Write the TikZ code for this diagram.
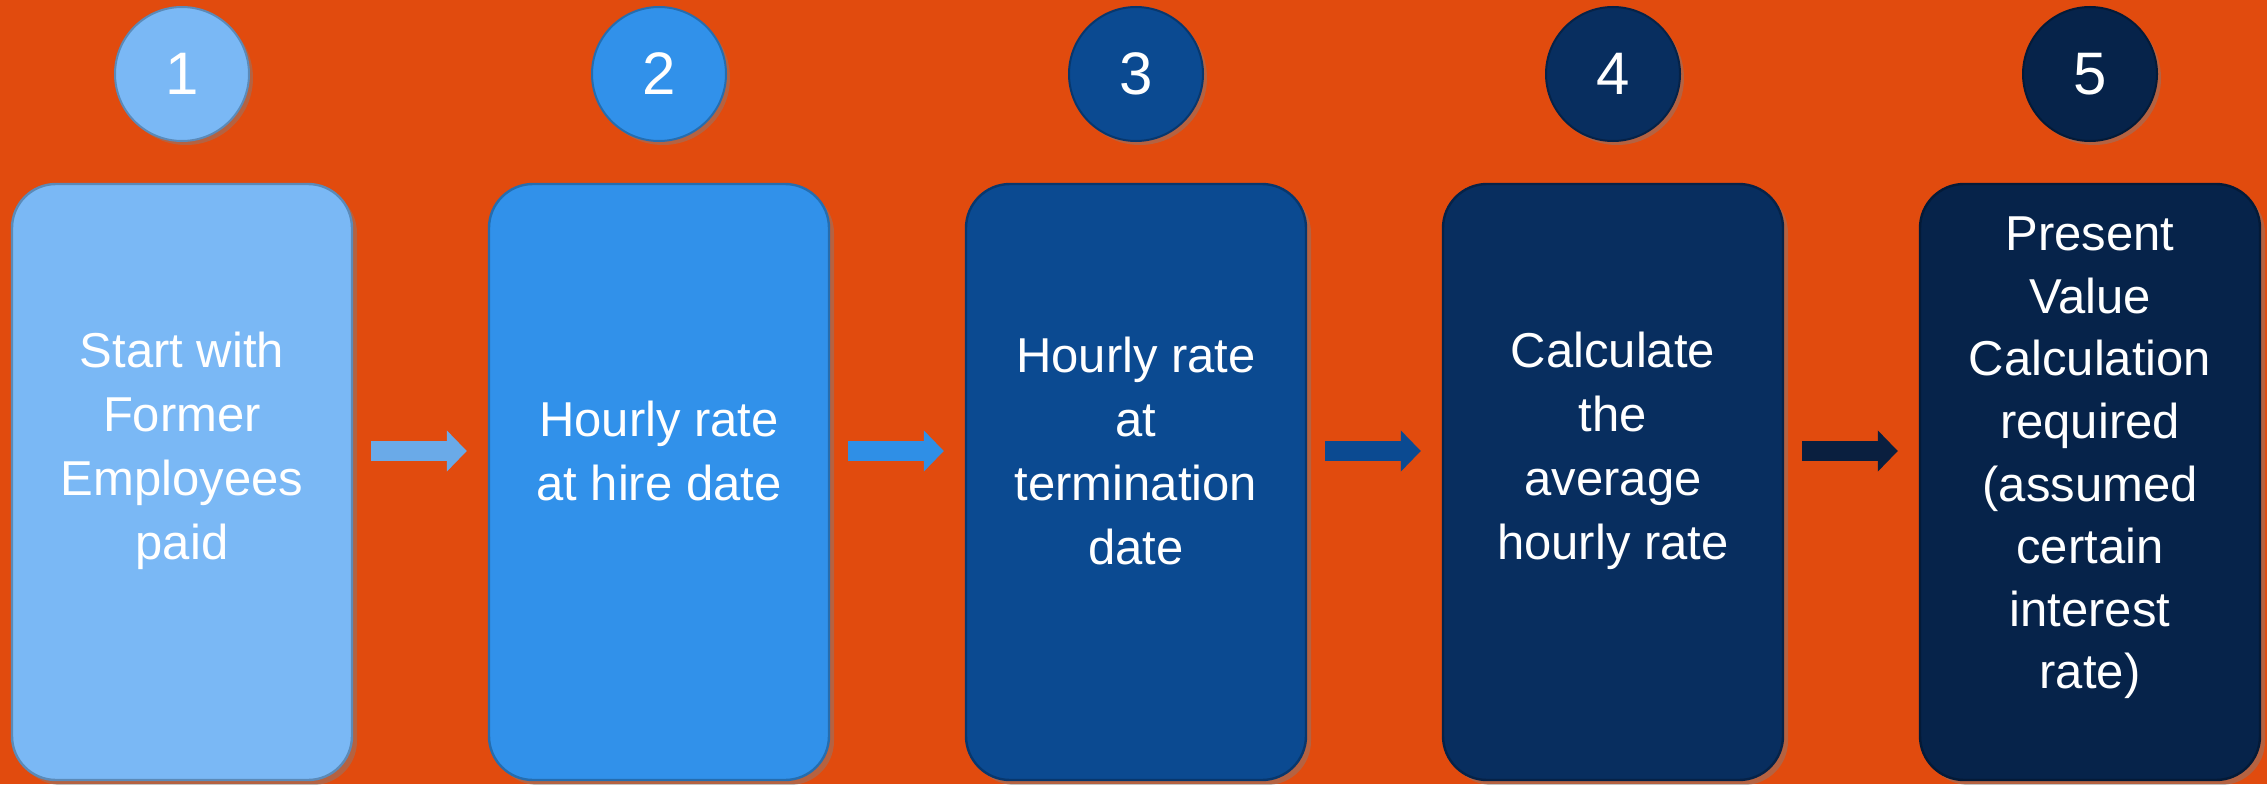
\documentclass[tikz,border=0pt]{standalone}
\usepackage{fontspec}
\setmainfont{Liberation Sans}
\usepackage{tikz}
\usetikzlibrary{arrows.meta, shadows, positioning, calc}
\usepackage{xcolor}

\definecolor{bgorange}{HTML}{E14B0E}
\definecolor{stepA}{HTML}{7AB8F5}
\definecolor{stepB}{HTML}{3191EA}
\definecolor{stepC}{HTML}{0B4A91}
\definecolor{stepD}{HTML}{082E5F}
\definecolor{stepE}{HTML}{06234A}
\definecolor{arrA}{HTML}{6AAAE8}
\definecolor{arrB}{HTML}{2F8FE6}
\definecolor{arrC}{HTML}{0B4A91}
\definecolor{arrD}{HTML}{0A1F3F}

\begin{document}
\begin{tikzpicture}[
  x=0.5pt, y=0.5pt,
  stepbox/.style={rounded corners=22pt, minimum width=170pt,
                  minimum height=298pt, inner sep=0pt,
                  draw=#1!75!black, line width=1.2pt, fill=#1,
                  drop shadow={shadow xshift=2.5pt, shadow yshift=-2.5pt,
                               opacity=0.45}},
  numball/.style={circle, minimum size=67pt, inner sep=0pt,
                  draw=#1!75!black, line width=1pt, fill=#1,
                  text=white, font=\fontsize{30}{30}\selectfont,
                  drop shadow={shadow xshift=2pt, shadow yshift=-2pt,
                               opacity=0.45}},
  steptext/.style={text=white, align=center,
                   font=\fontsize{24.5}{32}\selectfont},
  flow/.style={line width=10pt, #1,
               -{Triangle[length=10pt, width=20pt]}}
]
\useasboundingbox (0,0) rectangle (2267,784);
\fill[bgorange] (0,0) rectangle (2267,784);

%% Step boxes
\node[stepbox=stepA] (b1) at (182,302)  {};
\node[stepbox=stepB] (b2) at (659,302)  {};
\node[stepbox=stepC] (b3) at (1136,302) {};
\node[stepbox=stepD] (b4) at (1613,302) {};
\node[stepbox=stepE] (b5) at (2090,302) {};

\node[steptext] (t1) at ([yshift=15.5pt]b1.center) {Start with\\Former\\Employees\\paid};
\node[steptext] (t2) at ([yshift=15.5pt]b2.center) {Hourly rate\\at hire date};
\node[steptext] (t3) at ([yshift=15.5pt]b3.center) {Hourly rate\\at\\termination\\date};
\node[steptext] (t4) at ([yshift=15.5pt]b4.center) {Calculate\\the\\average\\hourly rate};
\node[steptext, font=\fontsize{24.5}{31.3}\selectfont] (t5) at ([yshift=12pt]b5.center)
  {Present\\Value\\Calculation\\required\\(assumed\\certain\\interest\\rate)};

%% Number balls
\node[numball=stepA] (n1) at (182,710)  {1};
\node[numball=stepB] (n2) at (659,710)  {2};
\node[numball=stepC] (n3) at (1136,710) {3};
\node[numball=stepD] (n4) at (1613,710) {4};
\node[numball=stepE] (n5) at (2090,710) {5};

%% Arrows between steps
\draw[flow=arrA] ([xshift=9pt, yshift=15.5pt]b1.east) -- ([xshift=-10.5pt, yshift=15.5pt]b2.west);
\draw[flow=arrB] ([xshift=9pt, yshift=15.5pt]b2.east) -- ([xshift=-10.5pt, yshift=15.5pt]b3.west);
\draw[flow=arrC] ([xshift=9pt, yshift=15.5pt]b3.east) -- ([xshift=-10.5pt, yshift=15.5pt]b4.west);
\draw[flow=arrD] ([xshift=9pt, yshift=15.5pt]b4.east) -- ([xshift=-10.5pt, yshift=15.5pt]b5.west);

\end{tikzpicture}
\end{document}
